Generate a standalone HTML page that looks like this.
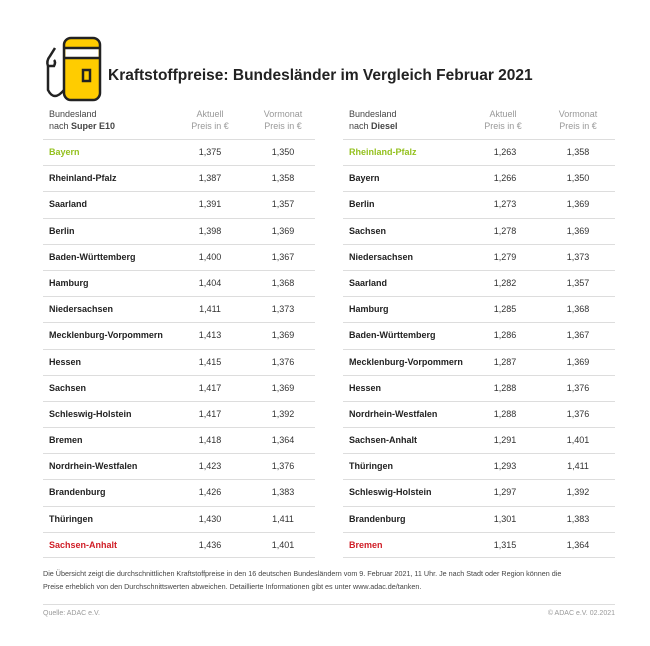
<!DOCTYPE html>
<html><head><meta charset="utf-8"><style>
body{margin:0;width:650px;height:646px;background:#fff;font-family:"Liberation Sans","DejaVu Sans",sans-serif;color:#222;position:relative;overflow:hidden}
.t{position:absolute;width:272px;top:108px}
.h{height:31px;position:relative;font-size:9px;color:#444;line-height:12px}
.h .c{color:#999}
.r{height:26.2px;border-top:1px solid #ddd;position:relative;font-size:9px;line-height:25px;box-sizing:border-box}
.r:last-child{border-bottom:1px solid #ddd}
.n{position:absolute;left:6px;font-weight:bold}
.a{position:absolute;left:137px;width:60px;text-align:center;color:#333}
.v{position:absolute;left:210px;width:60px;text-align:center;color:#333}
.g{color:#94c11f}.red{color:#d01d26}
</style></head><body>
<svg style="position:absolute;left:40px;top:36px" width="65" height="66" viewBox="0 0 65 66">
<rect x="24" y="2" width="36" height="62" rx="7" fill="#ffcc00" stroke="#222" stroke-width="2.5"/>
<rect x="25.5" y="12" width="33" height="10" fill="#fff"/>
<line x1="24" y1="12" x2="60" y2="12" stroke="#222" stroke-width="2.5"/>
<line x1="24" y1="22" x2="60" y2="22" stroke="#222" stroke-width="2.5"/>
<rect x="43" y="34" width="7" height="11" fill="none" stroke="#222" stroke-width="2.5"/>
<path d="M24 54 Q14 66 8 54 L8 30 Q6 25 10 20 L15 12 M8 30 L14 30 Q16 26 14 24" fill="none" stroke="#222" stroke-width="2.5"/>
</svg>
<div style="position:absolute;left:108px;top:67px;font-size:15.5px;font-weight:bold;color:#222">Kraftstoffpreise: Bundesländer im Vergleich Februar 2021</div>

<div class="t" style="left:43px">
<div class="h"><span style="position:absolute;left:6px">Bundesland<br>nach <b>Super E10</b></span><span class="c" style="position:absolute;left:137px;width:60px;text-align:center">Aktuell<br>Preis in €</span><span class="c" style="position:absolute;left:210px;width:60px;text-align:center">Vormonat<br>Preis in €</span></div>
<div class="r"><span class="n g">Bayern</span><span class="a">1,375</span><span class="v">1,350</span></div>
<div class="r"><span class="n">Rheinland-Pfalz</span><span class="a">1,387</span><span class="v">1,358</span></div>
<div class="r"><span class="n">Saarland</span><span class="a">1,391</span><span class="v">1,357</span></div>
<div class="r"><span class="n">Berlin</span><span class="a">1,398</span><span class="v">1,369</span></div>
<div class="r"><span class="n">Baden-Württemberg</span><span class="a">1,400</span><span class="v">1,367</span></div>
<div class="r"><span class="n">Hamburg</span><span class="a">1,404</span><span class="v">1,368</span></div>
<div class="r"><span class="n">Niedersachsen</span><span class="a">1,411</span><span class="v">1,373</span></div>
<div class="r"><span class="n">Mecklenburg-Vorpommern</span><span class="a">1,413</span><span class="v">1,369</span></div>
<div class="r"><span class="n">Hessen</span><span class="a">1,415</span><span class="v">1,376</span></div>
<div class="r"><span class="n">Sachsen</span><span class="a">1,417</span><span class="v">1,369</span></div>
<div class="r"><span class="n">Schleswig-Holstein</span><span class="a">1,417</span><span class="v">1,392</span></div>
<div class="r"><span class="n">Bremen</span><span class="a">1,418</span><span class="v">1,364</span></div>
<div class="r"><span class="n">Nordrhein-Westfalen</span><span class="a">1,423</span><span class="v">1,376</span></div>
<div class="r"><span class="n">Brandenburg</span><span class="a">1,426</span><span class="v">1,383</span></div>
<div class="r"><span class="n">Thüringen</span><span class="a">1,430</span><span class="v">1,411</span></div>
<div class="r"><span class="n red">Sachsen-Anhalt</span><span class="a">1,436</span><span class="v">1,401</span></div>
</div>

<div class="t" style="left:343px">
<div class="h"><span style="position:absolute;left:6px">Bundesland<br>nach <b>Diesel</b></span><span class="c" style="position:absolute;left:130px;width:60px;text-align:center">Aktuell<br>Preis in €</span><span class="c" style="position:absolute;left:205px;width:60px;text-align:center">Vormonat<br>Preis in €</span></div>
<div class="r"><span class="n g">Rheinland-Pfalz</span><span class="a" style="left:132px">1,263</span><span class="v" style="left:205px">1,358</span></div>
<div class="r"><span class="n">Bayern</span><span class="a" style="left:132px">1,266</span><span class="v" style="left:205px">1,350</span></div>
<div class="r"><span class="n">Berlin</span><span class="a" style="left:132px">1,273</span><span class="v" style="left:205px">1,369</span></div>
<div class="r"><span class="n">Sachsen</span><span class="a" style="left:132px">1,278</span><span class="v" style="left:205px">1,369</span></div>
<div class="r"><span class="n">Niedersachsen</span><span class="a" style="left:132px">1,279</span><span class="v" style="left:205px">1,373</span></div>
<div class="r"><span class="n">Saarland</span><span class="a" style="left:132px">1,282</span><span class="v" style="left:205px">1,357</span></div>
<div class="r"><span class="n">Hamburg</span><span class="a" style="left:132px">1,285</span><span class="v" style="left:205px">1,368</span></div>
<div class="r"><span class="n">Baden-Württemberg</span><span class="a" style="left:132px">1,286</span><span class="v" style="left:205px">1,367</span></div>
<div class="r"><span class="n">Mecklenburg-Vorpommern</span><span class="a" style="left:132px">1,287</span><span class="v" style="left:205px">1,369</span></div>
<div class="r"><span class="n">Hessen</span><span class="a" style="left:132px">1,288</span><span class="v" style="left:205px">1,376</span></div>
<div class="r"><span class="n">Nordrhein-Westfalen</span><span class="a" style="left:132px">1,288</span><span class="v" style="left:205px">1,376</span></div>
<div class="r"><span class="n">Sachsen-Anhalt</span><span class="a" style="left:132px">1,291</span><span class="v" style="left:205px">1,401</span></div>
<div class="r"><span class="n">Thüringen</span><span class="a" style="left:132px">1,293</span><span class="v" style="left:205px">1,411</span></div>
<div class="r"><span class="n">Schleswig-Holstein</span><span class="a" style="left:132px">1,297</span><span class="v" style="left:205px">1,392</span></div>
<div class="r"><span class="n">Brandenburg</span><span class="a" style="left:132px">1,301</span><span class="v" style="left:205px">1,383</span></div>
<div class="r"><span class="n red">Bremen</span><span class="a" style="left:132px">1,315</span><span class="v" style="left:205px">1,364</span></div>
</div>

<div style="position:absolute;left:43px;top:567px;width:590px;font-size:7.2px;line-height:13px;color:#444">Die Übersicht zeigt die durchschnittlichen Kraftstoffpreise in den 16 deutschen Bundesländern vom 9. Februar 2021, 11 Uhr. Je nach Stadt oder Region können die<br>Preise erheblich von den Durchschnittswerten abweichen. Detaillierte Informationen gibt es unter www.adac.de/tanken.</div>
<div style="position:absolute;left:43px;top:604px;width:572px;border-top:1px solid #ddd"></div>
<div style="position:absolute;left:43px;top:610px;font-size:7px;color:#999">Quelle: ADAC e.V.</div>
<div style="position:absolute;right:35px;top:610px;font-size:7px;color:#999">© ADAC e.V. 02.2021</div>
</body></html>
